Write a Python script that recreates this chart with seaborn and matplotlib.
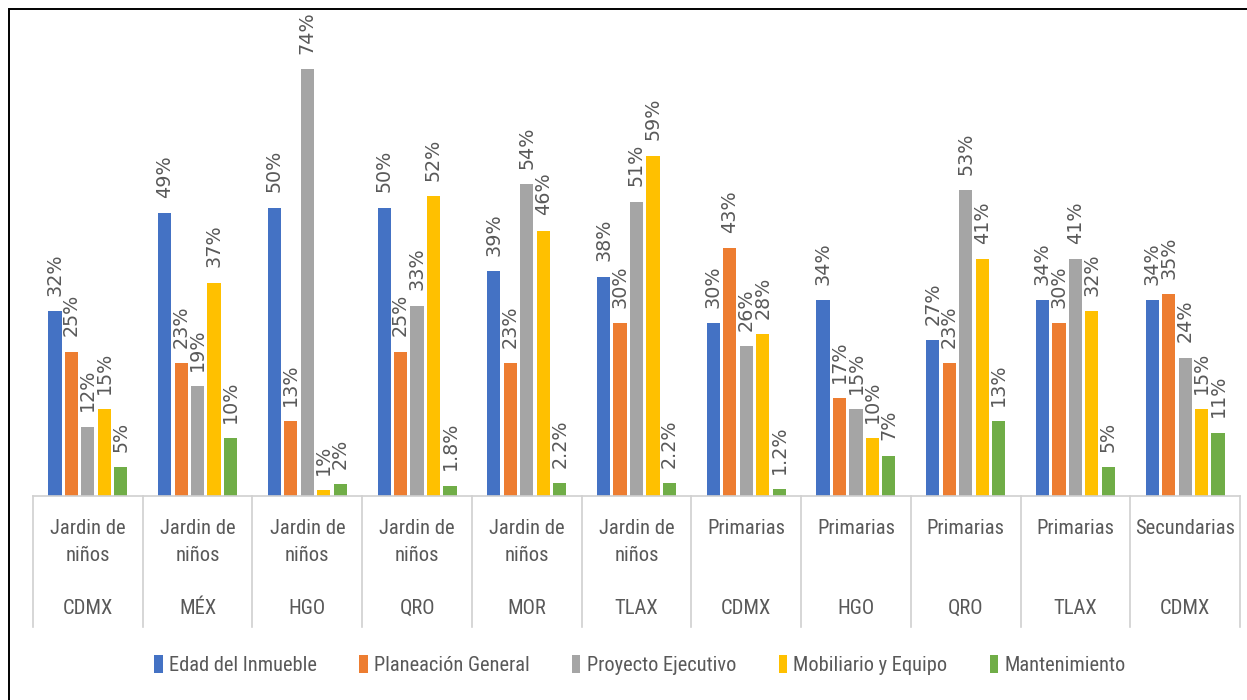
import matplotlib
matplotlib.use("Agg")
import matplotlib.pyplot as plt
import seaborn as sns
import pandas as pd
from matplotlib import font_manager
from matplotlib.font_manager import FontProperties
from matplotlib.patches import Rectangle

# ---------------- data ----------------
nivel = ["Jardin de\nniños"] * 6 + ["Primarias"] * 4 + ["Secundarias"]
estado = ["CDMX", "MÉX", "HGO", "QRO", "MOR", "TLAX", "CDMX", "HGO", "QRO", "TLAX", "CDMX"]
series = ["Edad del Inmueble", "Planeación General", "Proyecto Ejecutivo",
          "Mobiliario y Equipo", "Mantenimiento"]
edad = [32, 49, 50, 50, 39, 38, 30, 34, 27, 34, 34]
planeacion = [25, 23, 13, 25, 23, 30, 43, 17, 23, 30, 35]
proyecto = [12, 19, 74, 33, 54, 51, 26, 15, 53, 41, 24]
mobiliario = [15, 37, 1, 52, 46, 59, 28, 10, 41, 32, 15]
mantenimiento = [5, 10, 2, 1.8, 2.2, 2.2, 1.2, 7, 13, 5, 11]
colors = ["#4472C4", "#ED7D31", "#A5A5A5", "#FFC000", "#70AD47"]

# --------------- fonts ----------------
cond_path = None
prefs = ["LiberationSansNarrow-Regular", "RobotoCondensed-Regular",
         "OpenSans_Condensed-Regular", "OpenSans-CondensedRegular",
         "DejaVuSansCondensed.ttf"]
files = [f.fname for f in font_manager.fontManager.ttflist]
for p in prefs:
    for f in files:
        if p in f.split("/")[-1]:
            cond_path = f
            break
    if cond_path:
        break
if cond_path is None:
    for f in files:
        nm = f.split("/")[-1].lower()
        if ("narrow" in nm or "condensed" in nm) and "bold" not in nm and "oblique" not in nm and "italic" not in nm:
            cond_path = f
            break

def cat_font(size):
    if cond_path:
        return FontProperties(fname=cond_path, size=size)
    return FontProperties(family="Liberation Sans", size=size * 0.85)

txt_color = "#595959"

keys = [f"{i}" for i in range(len(estado))]
values = [edad, planeacion, proyecto, mobiliario, mantenimiento]
rows = []
for s, vals in zip(series, values):
    for k, v in zip(keys, vals):
        rows.append({"grupo": k, "serie": s, "valor": v})
df = pd.DataFrame(rows)

W, H = 1247, 700
fig = plt.figure(figsize=(W / 100, H / 100), dpi=100)
ax_left, ax_right = 33, 1240
ax_bottom_px, ax_top_px = 496, 20
ax = fig.add_axes([ax_left / W, (H - ax_bottom_px) / H,
                   (ax_right - ax_left) / W, (ax_bottom_px - ax_top_px) / H])

sns.barplot(data=df, x="grupo", y="valor", hue="serie", hue_order=series,
            order=keys, palette=colors, width=0.75, gap=0.2, ax=ax,
            saturation=1, errorbar=None, legend=True)

ax.set_xlim(-0.5, len(keys) - 0.5)
ax.set_ylim(0, 82.5)

for cont, vals in zip(ax.containers, values):
    labels = [f"{v:g}%" for v in vals]
    ax.bar_label(cont, labels=labels, rotation=90, padding=11,
                 fontsize=13.8, color=txt_color, family="DejaVu Sans")

for sp in ["top", "right", "left"]:
    ax.spines[sp].set_visible(False)
ax.spines["bottom"].set_color("#D0D0D0")
ax.spines["bottom"].set_linewidth(1.2)
ax.set_yticks([])
ax.set_xticks([])
ax.set_xlabel("")
ax.set_ylabel("")

# two-level category axis
tr = ax.get_xaxis_transform()
axh = ax_bottom_px - ax_top_px
def ya(ypx):
    return (ax_bottom_px - ypx) / axh

for i in range(len(keys) + 1):
    ax.plot([i - 0.5, i - 0.5], [0, ya(627)], transform=tr, color="#D0D0D0",
            lw=1.2, clip_on=False)
for i, (n, e) in enumerate(zip(nivel, estado)):
    ax.text(i, ya(519), n, transform=tr, ha="center", va="top",
            fontproperties=cat_font(14.8), color=txt_color, linespacing=1.55)
    ax.text(i, ya(608), e, transform=tr, ha="center", va="center",
            fontproperties=cat_font(14.8), color=txt_color)

# legend
handles, labs = ax.get_legend_handles_labels()
ax.get_legend().remove()
leg = fig.legend(handles, labs, loc="center", bbox_to_anchor=(640 / W, (H - 665) / H),
                 ncol=5, frameon=False, handlelength=0.4, handleheight=1.0,
                 handletextpad=0.3, columnspacing=2.1,
                 prop=cat_font(14.7))
for t in leg.get_texts():
    t.set_color(txt_color)

# black frame around the chart
fig.patches.append(Rectangle((9 / W, -0.1), 2, (H - 9) / H + 0.1,
                             transform=fig.transFigure, fill=False,
                             edgecolor="black", lw=1.4, zorder=10))

fig.savefig("out.png", dpi=100, facecolor="white")
